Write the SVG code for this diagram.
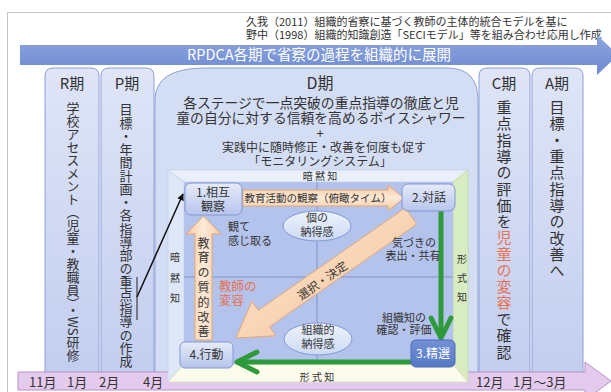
<svg xmlns="http://www.w3.org/2000/svg" width="611" height="392" viewBox="0 0 611 392">
<defs>
<linearGradient id="gBlue" x1="0" y1="0" x2="0" y2="1"><stop offset="0" stop-color="#8ea6de"/><stop offset="1" stop-color="#6d8ad0"/></linearGradient>
<linearGradient id="gCol" x1="0" y1="0" x2="0" y2="1"><stop offset="0" stop-color="#dfe5f7"/><stop offset="1" stop-color="#c2cdef"/></linearGradient>
<linearGradient id="gNode" x1="0" y1="0" x2="0" y2="1"><stop offset="0" stop-color="#e6ebf9"/><stop offset="1" stop-color="#b7c5ec"/></linearGradient>
<linearGradient id="gNode3" x1="0" y1="0" x2="0" y2="1"><stop offset="0" stop-color="#7391d6"/><stop offset="1" stop-color="#5678c6"/></linearGradient>
<linearGradient id="gOrH" x1="0" y1="0" x2="0" y2="1"><stop offset="0" stop-color="#f6c9a0"/><stop offset="0.5" stop-color="#fde9d6"/><stop offset="1" stop-color="#f6c9a0"/></linearGradient>
<linearGradient id="gOrV" x1="0" y1="0" x2="1" y2="0"><stop offset="0" stop-color="#f6c9a0"/><stop offset="0.5" stop-color="#fdebd9"/><stop offset="1" stop-color="#f6c9a0"/></linearGradient>
<linearGradient id="gOrD" x1="0" y1="0" x2="1" y2="1"><stop offset="0" stop-color="#fde9d6"/><stop offset="1" stop-color="#f4c297"/></linearGradient>
<linearGradient id="gEll" x1="0" y1="0" x2="0" y2="1"><stop offset="0" stop-color="#eef3fc"/><stop offset="1" stop-color="#cbdaf4"/></linearGradient>
<marker id="mBlack" viewBox="0 0 10 10" refX="9" refY="5" markerWidth="7" markerHeight="7" orient="auto" markerUnits="userSpaceOnUse"><path d="M0,0 L10,5 L0,10 Z" fill="#111"/></marker>
<style>
text{font-family:"Noto Sans CJK JP","Noto Sans",sans-serif;fill:#333}
.col{fill:url(#gCol);stroke:#8c9ed6;stroke-width:1}
.lbl{font-size:15px;text-anchor:middle}
.vt{writing-mode:vertical-rl;font-size:13px}
.node{fill:url(#gNode);stroke:#8296d3;stroke-width:1}
.nt{font-size:12px;text-anchor:middle}
.sm{font-size:11px;text-anchor:middle}
.axis{font-size:10px;text-anchor:middle}
.ell{fill:url(#gEll);stroke:#7f9ad6;stroke-width:1}
.org{fill:#e8714f}
.oar{stroke:#e3a874;stroke-width:1}
.grn{stroke:#2f9a3c;stroke-width:5;fill:none;stroke-linecap:round;stroke-linejoin:round}
.mon{font-size:13px}
</style>
</defs>

<rect x="7.5" y="12.5" width="610" height="390" fill="#ffffff" stroke="#c4c4c4"/>

<g id="title">
<text x="246" y="26" font-size="11">久我（2011）組織的省察に基づく教師の主体的統合モデルを基に</text>
<text x="246" y="39" font-size="11">野中（1998）組織的知識創造「SECIモデル」等を組み合わせ応用し作成</text>
</g>

<g id="rpdca-arrow">
<polygon points="20,45 597,45 597,35 618,55 597,75 597,65 20,65" fill="url(#gBlue)"/>
<text x="319" y="60" font-size="14.5" text-anchor="middle" style="fill:#ffffff">RPDCA各期で省察の過程を組織的に展開</text>
</g>

<g id="col-R">
<path class="col" d="M45,380 L45,76 Q45,68 53,68 L91,68 Q99,68 99,76 L99,380 Z"/>
<text class="lbl" x="72" y="89">R期</text>
<text class="vt" x="73" y="102">学校アセスメント（児童・教職員）・WS研修</text>
</g>
<g id="col-P">
<path class="col" d="M101,380 L101,76 Q101,68 109,68 L146,68 Q154,68 154,76 L154,380 Z"/>
<text class="lbl" x="127" y="89">P期</text>
<text class="vt" x="126" y="103" style="letter-spacing:0.25px">目標・年間計画・各指導部の重点指導の作成</text>
</g>
<g id="col-C">
<path class="col" d="M479,380 L479,76 Q479,68 487,68 L522,68 Q530,68 530,76 L530,380 Z"/>
<text class="lbl" x="504" y="89">C期</text>
<text class="vt" x="504" y="100" style="font-size:15px;letter-spacing:1.3px">重点指導の評価を<tspan class="org">児童の変容</tspan>で確認</text>
</g>
<g id="col-A">
<path class="col" d="M532,380 L532,76 Q532,68 540,68 L575,68 Q583,68 583,76 L583,380 Z"/>
<text class="lbl" x="557" y="89">A期</text>
<text class="vt" x="557" y="100" style="font-size:15px;letter-spacing:1.3px">目標・重点指導の改善へ</text>
</g>

<g id="col-D">
<path d="M155,380 L155,100 Q155,68 205,68 L447,68 Q478,68 478,100 L478,380 Z" fill="#d3ddf4" stroke="#8ea2d8"/>
<text x="320" y="89" font-size="16" text-anchor="middle">D期</text>
<text x="321" y="108" font-size="13.8" text-anchor="middle">各ステージで一点突破の重点指導の徹底と児</text>
<text x="321" y="123" font-size="13.8" text-anchor="middle">童の自分に対する信頼を高めるボイスシャワー</text>
<text x="320" y="138" font-size="13" text-anchor="middle">+</text>
<text x="324" y="152" font-size="12" text-anchor="middle">実践中に随時修正・改善を何度も促す</text>
<text x="320" y="166" font-size="12" text-anchor="middle">「モニタリングシステム」</text>
</g>

<g id="months">
<polygon points="18,372 585,372 585,362 611,381 585,400 585,390 18,390" fill="#e4cbed" stroke="#b88fc9"/>
<text class="mon" x="29" y="386.5">11月</text>
<text class="mon" x="67" y="386.5">1月</text>
<text class="mon" x="99" y="386.5">2月</text>
<text class="mon" x="143" y="386.5">4月</text>
<text class="mon" x="476" y="386.5">12月</text>
<text class="mon" x="513" y="386.5">1月～3月</text>
</g>

<g id="seci-panel">
<polygon points="168,170 468,170 453,182 184,182" fill="#eaf0fa" stroke="#c8d3ee" stroke-width="0.8"/>
<polygon points="168,170 184,182 184,364 168,382" fill="#dde7f8" stroke="#c8d3ee" stroke-width="0.8"/>
<polygon points="468,170 453,182 453,364 468,382" fill="#d8ecc2" stroke="#c3dba8" stroke-width="0.8"/>
<polygon points="184,364 453,364 468,382 168,382" fill="#fbfbeb" stroke="#d9dcc4" stroke-width="0.8"/>
<rect x="184" y="182" width="269" height="182" fill="#b4c3eb"/>
<line x1="317" y1="182" x2="317" y2="364" stroke="#7d93cf" stroke-width="1"/>
<line x1="184" y1="277" x2="453" y2="277" stroke="#7d93cf" stroke-width="1"/>
<text class="axis" x="320" y="179.5">暗 黙 知</text>
<text class="axis" x="317" y="380.5">形 式 知</text>
<text class="axis" x="175" y="261">暗</text>
<text class="axis" x="175" y="282">黙</text>
<text class="axis" x="175" y="302">知</text>
<text class="axis" x="462" y="263">形</text>
<text class="axis" x="462" y="282">式</text>
<text class="axis" x="462" y="301">知</text>
</g>

<g id="ell-individual">
<ellipse class="ell" cx="317" cy="226" rx="34" ry="15"/>
<text class="sm" x="317" y="222">個の</text>
<text class="sm" x="317" y="236">納得感</text>
</g>
<g id="ell-org">
<ellipse class="ell" cx="318" cy="339" rx="34" ry="16"/>
<text class="sm" x="318" y="334">組織的</text>
<text class="sm" x="318" y="348">納得感</text>
</g>

<g id="connectors">
<polygon class="oar" points="243,190 388,190 388,185 404,198 388,211 388,206 243,206" fill="url(#gOrH)"/>
<text x="318" y="202" font-size="10.5" text-anchor="middle">教育活動の観察（俯瞰タイム）</text>
<polygon class="oar" points="195,340 195,234 186,234 203.5,216 221,234 212,234 212,340" fill="url(#gOrV)"/>
<text x="203.5" y="237" style="writing-mode:vertical-rl;font-size:12px;letter-spacing:2.8px">教育の質的改善</text>
<polygon class="oar" points="405.3,207.8 258.2,310.4 251.9,301.3 236,338 275.9,335.8 269.6,326.8 416.7,224.2" fill="url(#gOrD)"/>
<text x="322" y="280" font-size="11.5" text-anchor="middle" dominant-baseline="central" transform="rotate(-34.9 322 280)">選択・決定</text>
<line class="grn" x1="441" y1="212" x2="441" y2="337"/>
<polyline class="grn" points="431,318 441,338 451,318"/>
<line class="grn" x1="410" y1="362" x2="238" y2="362"/>
<polyline class="grn" points="257,352 237,362 257,372"/>
<line x1="137" y1="277" x2="137" y2="320" stroke="#222" stroke-width="1"/>
<line x1="137" y1="297" x2="183" y2="194" stroke="#111" stroke-width="1.5" marker-end="url(#mBlack)"/>
</g>

<g id="labels">
<text x="228" y="231" font-size="11">観て</text>
<text x="228" y="245" font-size="11">感じ取る</text>
<text class="org" x="219" y="291" font-size="12.5">教師の</text>
<text class="org" x="219" y="305" font-size="12.5">変容</text>
<text class="sm" x="414" y="247">気づきの</text>
<text class="sm" x="413" y="260">表出・共有</text>
<text class="sm" x="404" y="322">組織知の</text>
<text class="sm" x="404" y="334">確認・評価</text>
</g>

<g id="node1">
<rect class="node" x="185" y="183" width="57" height="32" rx="6"/>
<text class="nt" x="213" y="197">1.相互</text>
<text class="nt" x="213" y="211">観察</text>
</g>
<g id="node2">
<rect class="node" x="402" y="184" width="53" height="27" rx="6"/>
<text class="nt" x="429" y="202">2.対話</text>
</g>
<g id="node3">
<rect x="411" y="340" width="44" height="27" rx="5" fill="url(#gNode3)" stroke="#4a6ab8"/>
<text class="nt" x="433" y="358" style="fill:#ffffff">3.精選</text>
</g>
<g id="node4">
<rect class="node" x="180" y="342" width="53" height="26" rx="5"/>
<text class="nt" x="206.5" y="359">4.行動</text>
</g>
</svg>
